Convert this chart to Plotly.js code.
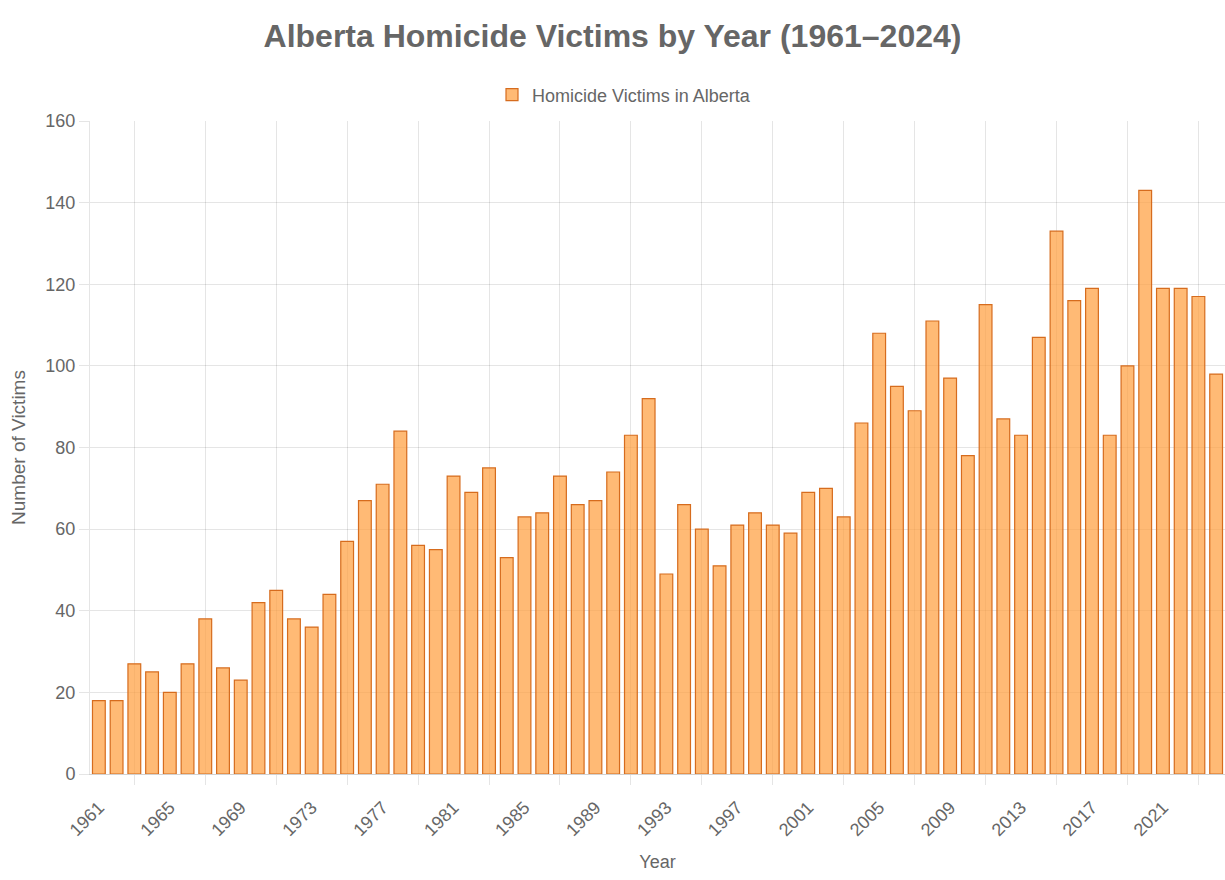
<!DOCTYPE html>
<html>
<head>
<meta charset="utf-8">
<script src="https://cdn.plot.ly/plotly-3.0.1.min.js"></script>
<style>
  html, body { margin: 0; padding: 0; background: #fff; }
  #plot { width: 1225px; height: 880px; }
</style>
</head>
<body>
<div id="plot"></div>
<script>
// Alberta homicide victims, 1961-2024
const years = [];
for (let y = 1961; y <= 2024; y++) years.push(y);

const victims = [
  18, 18, 27, 25, 20, 27, 38, 26, 23, 42,
  45, 38, 36, 44, 57, 67, 71, 84, 56, 55,
  73, 69, 75, 53, 63, 64, 73, 66, 67, 74,
  83, 92, 49, 66, 60, 51, 61, 64, 61, 59,
  69, 70, 63, 86, 108, 95, 89, 111, 97, 78,
  115, 87, 83, 107, 133, 116, 119, 83, 100, 143,
  119, 119, 117, 98,
];

const labelYears = years.filter((y) => (y - 1961) % 4 === 0);

const textColor = '#666';
const gridColor = 'rgba(0,0,0,0.1)';

const trace = {
  x: years,
  y: victims,
  type: 'bar',
  name: 'Homicide Victims in Alberta',
  width: 0.72,
  marker: {
    color: 'rgba(255,159,64,0.72)',
    line: { color: 'rgb(214,108,30)', width: 1.2 },
  },
  hoverinfo: 'none',
};

const layout = {
  width: 1225,
  height: 880,
  margin: { l: 90, r: 0, t: 121, b: 106 },
  paper_bgcolor: '#fff',
  plot_bgcolor: '#fff',
  font: { family: 'Liberation Sans, Arial, sans-serif', size: 18, color: textColor },
  title: {
    text: '<b>Alberta Homicide Victims by Year (1961–2024)</b>',
    font: { size: 32, color: textColor },
    xref: 'container',
    yref: 'container',
    x: 0.5,
    y: 1 - 36 / 880,
    xanchor: 'center',
    yanchor: 'middle',
  },
  showlegend: true,
  legend: {
    orientation: 'h',
    x: (624 - 90) / 1135,
    xanchor: 'center',
    y: 1 + 26 / 653,
    yanchor: 'middle',
    font: { size: 18, color: textColor },
  },
  xaxis: {
    range: [1960.5, 2024.5],
    tickvals: labelYears,
    ticktext: labelYears.map(String),
    tickangle: -45,
    ticks: 'outside',
    ticklen: 15,
    tickcolor: 'rgba(0,0,0,0)',
    tickfont: { size: 18 },
    showgrid: false,
    zeroline: false,
    showline: true,
    linecolor: 'rgba(0,0,0,0.18)',
    minor: {
      tick0: 1963,
      dtick: 4,
      ticks: 'outside',
      ticklen: 10,
      tickcolor: gridColor,
      showgrid: true,
      gridcolor: gridColor,
      gridwidth: 1,
    },
    title: { text: 'Year', font: { size: 18, color: textColor }, standoff: 16 },
  },
  yaxis: {
    range: [0, 160],
    dtick: 20,
    ticks: 'outside',
    ticklen: 10,
    tickcolor: gridColor,
    tickfont: { size: 18 },
    gridcolor: gridColor,
    showline: true,
    linecolor: gridColor,
    zeroline: false,
    title: { text: 'Number of Victims', font: { size: 19, color: textColor }, standoff: 14 },
  },
  bargap: 0.28,
};

Plotly.newPlot('plot', [trace], layout, { displayModeBar: false, staticPlot: true });
</script>
</body>
</html>
